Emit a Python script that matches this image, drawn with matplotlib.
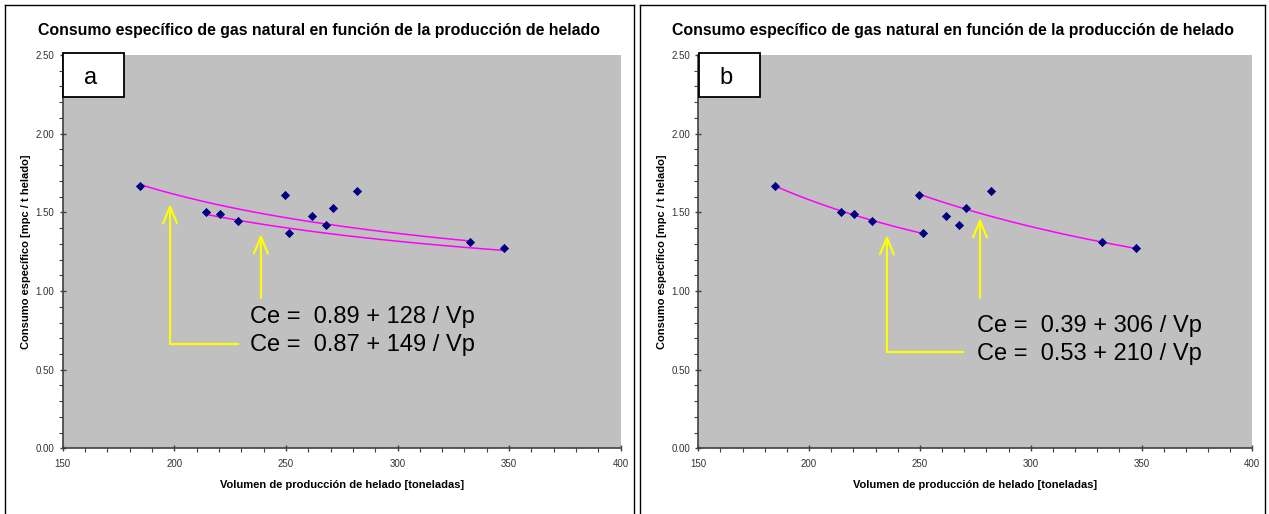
import numpy as np
import matplotlib
matplotlib.use("Agg")
import matplotlib.pyplot as plt
from matplotlib.lines import Line2D
from matplotlib.patches import Rectangle

plt.rcParams['font.family'] = ['Liberation Sans', 'DejaVu Sans']

# ---------------- data ----------------
vol = [184.7, 214.3, 220.4, 228.6, 249.7, 251.3, 261.9, 267.8, 271.0, 282.0, 332.3, 347.7]
ce = [1.668, 1.500, 1.487, 1.447, 1.612, 1.368, 1.477, 1.419, 1.527, 1.635, 1.311, 1.271]

title = "Consumo específico de gas natural en función de la producción de helado"
xlabel = "Volumen de producción de helado [toneladas]"
ylabel = "Consumo específico [mpc / t helado]"
panel_letters = ["a", "b"]

# fitted curves per panel: (a, b, first index, last index) -> Ce = a + b / Vp
fits_a = [(0.87, 149, 0, 10), (0.89, 128, 1, 11)]
fits_b = [(0.53, 210, 0, 5), (0.39, 306, 4, 11)]
eq_a = ["Ce =  0.89 + 128 / Vp", "Ce =  0.87 + 149 / Vp"]
eq_b = ["Ce =  0.39 + 306 / Vp", "Ce =  0.53 + 210 / Vp"]

xticks = [150, 200, 250, 300, 350, 400]
yticks = [0.0, 0.5, 1.0, 1.5, 2.0, 2.5]

W, H = 1269, 514
fig = plt.figure(figsize=(W / 100, H / 100), dpi=100)
fig.patch.set_facecolor('white')


def fx(px):
    return px / W


def fy(py):
    return 1 - py / H


def frame(x0, x1, y0, y1):
    for xs, ys in [((x0, x0), (y0, y1)), ((x1, x1), (y0, y1)), ((x0, x1), (y0, y0))]:
        fig.add_artist(Line2D([fx(v) for v in xs], [fy(v) for v in ys],
                              color='black', lw=1.0))


panels = [
    dict(x0=5, x1=634, ax_left=62.7, ax_w=558, fits=fits_a, eqs=eq_a,
         eq_x=233.9, eq_y=[0.797, 0.619],
         arrows=[dict(x=198.1, tip=1.553, bot=0.663, hx=228.5),
                 dict(x=238.8, tip=1.362, bot=0.955, hx=None)]),
    dict(x0=640, x1=1265, ax_left=698.3, ax_w=554, fits=fits_b, eqs=eq_b,
         eq_x=275.7, eq_y=[0.740, 0.562],
         arrows=[dict(x=235.1, tip=1.356, bot=0.612, hx=269.4),
                 dict(x=277.1, tip=1.464, bot=0.956, hx=None)]),
]

ax_top, ax_bot = 55, 448.4

for i, p in enumerate(panels):
    frame(p['x0'], p['x1'], 5, 520)
    cx = (p['x0'] + p['x1']) / 2
    fig.text(fx(cx), fy(30), title, ha='center', va='center',
             fontsize=11.4, fontweight='bold')

    ax = fig.add_axes([fx(p['ax_left']), fy(ax_bot), p['ax_w'] / W,
                       (ax_bot - ax_top) / H])
    ax.set_facecolor('#C0C0C0')
    ax.set_xlim(150, 400)
    ax.set_ylim(0, 2.5)
    for s in ['top', 'right']:
        ax.spines[s].set_visible(False)
    for s in ['left', 'bottom']:
        ax.spines[s].set_color('#404040')
        ax.spines[s].set_linewidth(1.2)
    ax.set_xticks(xticks)
    ax.set_xticklabels([str(t) for t in xticks])
    ax.set_yticks(yticks)
    ax.set_yticklabels([f"{t:.2f}" for t in yticks])
    ax.set_xticks(np.arange(150, 401, 10), minor=True)
    ax.set_yticks(np.arange(0, 2.51, 0.1), minor=True)
    ax.tick_params(which='major', direction='inout', length=5, width=1,
                   colors='#404040', labelsize=7, labelcolor='#333333')
    ax.tick_params(which='minor', direction='out', length=3, width=0.8,
                   colors='#404040')
    ax.tick_params(axis='x', which='major', pad=5)

    ax.set_xlabel(xlabel, fontsize=8, fontweight='bold', labelpad=8)
    ax.set_ylabel(ylabel, fontsize=8, fontweight='bold', labelpad=3)

    for a, b, lo, hi in p['fits']:
        xs = np.linspace(vol[lo], vol[hi], 80)
        ax.plot(xs, a + b / xs, color='#FF00FF', lw=1.1, zorder=2)

    ax.scatter(vol, ce, marker='D', s=22, color='#000080', zorder=3,
               linewidths=0)

    for ar in p['arrows']:
        ax.annotate('', xy=(ar['x'], ar['tip']), xytext=(ar['x'], ar['bot']),
                    arrowprops=dict(arrowstyle='->,head_length=1.2,head_width=0.5',
                                    color='#FFFF00', lw=1.5,
                                    shrinkA=0, shrinkB=0))
        if ar['hx'] is not None:
            ax.plot([ar['x'], ar['hx']], [ar['bot'], ar['bot']],
                    color='#FFFF00', lw=1.5)

    for txt, yy in zip(p['eqs'], p['eq_y']):
        ax.text(p['eq_x'], yy, txt, fontsize=17, ha='left', va='baseline',
                color='black')

    # letter box
    bx0 = p['ax_left'] + 0.5
    fig.add_artist(Rectangle((fx(bx0), fy(97)), 61 / W, 44 / H,
                             facecolor='white', edgecolor='black', lw=1.3,
                             transform=fig.transFigure, zorder=5))
    fig.text(fx(bx0 + 27), fy(78), panel_letters[i], ha='center',
             va='center', fontsize=17, zorder=6)

fig.savefig('out.png', dpi=100)
